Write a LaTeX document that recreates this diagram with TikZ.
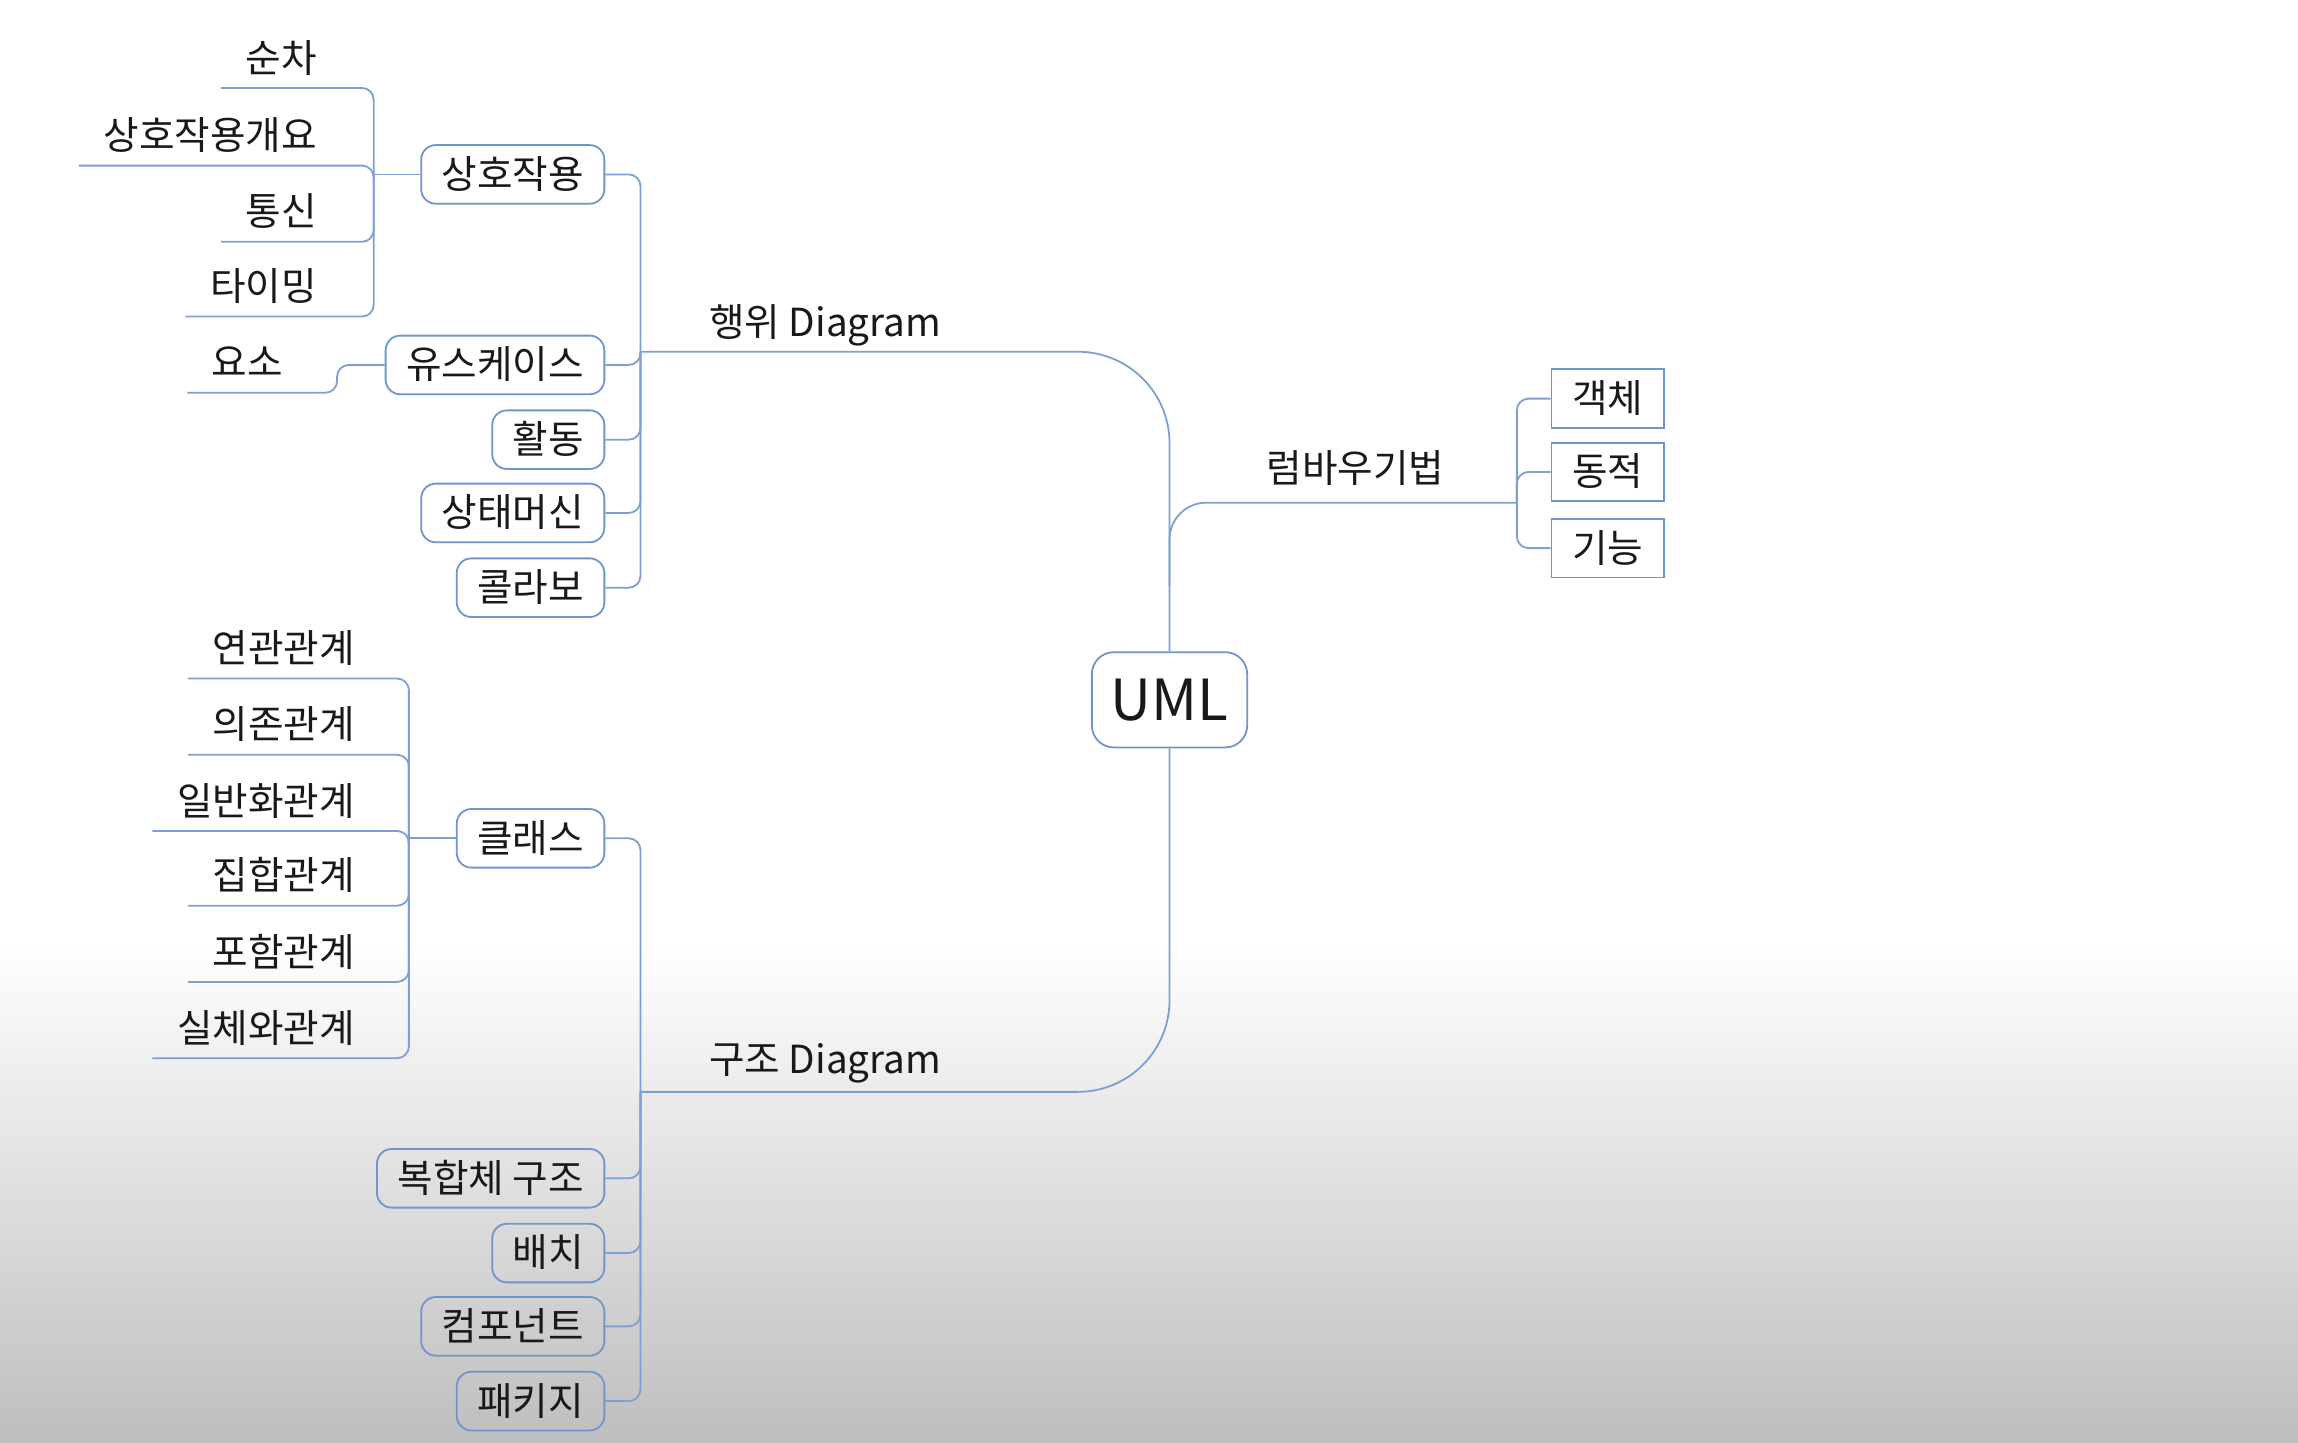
\documentclass[tikz,border=0pt]{standalone}
\usepackage{fontspec}
\setmainfont{Noto Sans CJK KR}
\usepackage{xcolor}
\definecolor{linkblue}{RGB}{125,160,210}
\definecolor{boxblue}{RGB}{110,150,205}
\definecolor{bggray}{RGB}{190,190,190}
\definecolor{inkgray}{RGB}{25,25,25}
\tikzset{
  link/.style={draw=linkblue,line width=0.7pt,rounded corners=1.6mm},
  topic/.style={draw=boxblue,line width=0.7pt,rounded corners=2mm,
    inner xsep=2.8mm,minimum height=8mm,text height=4.4mm,text depth=0.6mm},
  facet/.style={topic,rounded corners=0pt},
  leaf/.style={inner xsep=3.3mm,inner ysep=1.3mm,anchor=south east,
    text height=3.8mm,text depth=0.8mm},
  label/.style={inner sep=0pt,text height=3.8mm,text depth=0.8mm}
}
\begin{document}
\begin{tikzpicture}[x=0.2mm,y=-0.2mm,font=\fontsize{15}{18}\selectfont,
  text=inkgray]
\useasboundingbox (0,0) rectangle (1568,984);
\fill[white] (0,0) rectangle (1568,643);
\shade[top color=white,bottom color=bggray] (0,643) rectangle (1568,984);

\node [draw=boxblue,line width=0.7pt,rounded corners=3mm,minimum width=21.2mm,
  minimum height=13mm,font=\fontsize{22}{24}\selectfont] (uml) at (798,477.5) {UML};

\coordinate (jbeh) at (437,240);
\coordinate (jstr) at (437,745);
\coordinate (rumfork) at (798,400);
\coordinate (jrum) at (1035,343);
\coordinate (jinter) at (255,119);
\coordinate (jelem) at (230,249);
\coordinate (jclass) at (279,572);

\node [label] (beh) at (563,222) {행위 Diagram};
\node [label] (str) at (563,725) {구조 Diagram};
\node [label] (rum) at (925,322) {럼바우기법};

\path
  (413,119) node [topic,anchor=east] (inter) {상호작용}
  (413,249) node [topic,anchor=east] (usecase) {유스케이스}
  (413,300) node [topic,anchor=east] (act) {활동}
  (413,350) node [topic,anchor=east] (state) {상태머신}
  (413,401) node [topic,anchor=east] (collab) {콜라보}
  (413,572) node [topic,anchor=east] (class) {클래스}
  (413,804) node [topic,anchor=east] (compos) {복합체 구조}
  (413,855) node [topic,anchor=east] (deploy) {배치}
  (413,905) node [topic,anchor=east] (compo) {컴포넌트}
  (413,956) node [topic,anchor=east] (pkg) {패키지};

\path
  (1058,272) node [facet,anchor=west] (obj) {객체}
  (1058,322) node [facet,anchor=west] (dyn) {동적}
  (1058,374) node [facet,anchor=west] (func) {기능};

\path
  (233,60) node [leaf] (seq) {순차}
  (233,113) node [leaf] (overview) {상호작용개요}
  (233,165) node [leaf] (comm) {통신}
  (233,216) node [leaf] (timing) {타이밍}
  (210,268) node [leaf] (elem) {요소};

\path
  (259,463) node [leaf] (assoc) {연관관계}
  (259,515) node [leaf] (dep) {의존관계}
  (259,567) node [leaf] (gen) {일반화관계}
  (259,618) node [leaf] (aggr) {집합관계}
  (259,670) node [leaf] (incl) {포함관계}
  (259,722) node [leaf] (real) {실체와관계};

\draw [link,rounded corners=12.5mm] (jbeh) -| (uml.north);
\draw [link,rounded corners=12.5mm] (jstr) -| (uml.south);
\draw [link,rounded corners=5mm] (rumfork) |- (jrum);

\foreach \n in {inter,usecase,act,state,collab}
  \draw [link] (\n.east) -| (jbeh);
\foreach \n in {class,compos,deploy,compo,pkg}
  \draw [link] (\n.east) -| (jstr);
\foreach \n in {obj,dyn,func}
  \draw [link] (\n.west) -| (jrum);
\foreach \n in {seq,overview,comm,timing}
  \draw [link] (\n.south west) -| (jinter);
\draw [link] (inter.west) -- (jinter);
\draw [link] (elem.south west) -| (jelem) -- (usecase.west);
\foreach \n in {assoc,dep,gen,aggr,incl,real}
  \draw [link] (\n.south west) -| (jclass);
\draw [link] (class.west) -- (jclass);
\end{tikzpicture}
\end{document}
